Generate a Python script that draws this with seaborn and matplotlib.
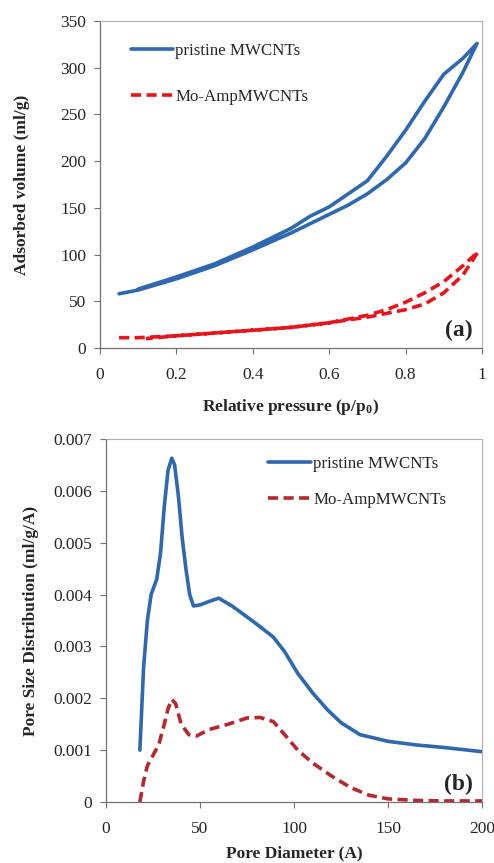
import numpy as np
import pandas as pd
import matplotlib.pyplot as plt
import seaborn as sns

# (a) isotherms: adsorption branch then desorption branch (one closed loop)
p_pristine = [0.05, 0.1, 0.2, 0.3, 0.4, 0.5, 0.6, 0.65, 0.7, 0.75, 0.8, 0.85, 0.9, 0.95, 0.987,
              0.95, 0.9, 0.85, 0.8, 0.75, 0.7, 0.65, 0.6, 0.55, 0.5, 0.45, 0.4, 0.3, 0.2, 0.1]
v_pristine = [58, 62, 74, 88, 105, 123, 143, 153, 165, 180, 198, 224, 258, 295, 326,
              310, 293, 264, 233, 205, 179, 165, 151, 141, 128, 118, 108, 90, 76, 63]

p_mo = [0.05, 0.1, 0.2, 0.3, 0.4, 0.5, 0.6, 0.7, 0.75, 0.8, 0.85, 0.9, 0.95, 0.99,
        0.95, 0.9, 0.85, 0.8, 0.75, 0.7, 0.6, 0.5, 0.4, 0.3, 0.2, 0.12]
v_mo = [11, 11, 13, 16, 19, 22, 27, 33, 37, 41, 47, 59, 78, 103,
        88, 71, 59, 49, 41, 35, 27, 22, 19, 16, 13, 10]

# (b) pore size distribution
d_pristine = [18, 20, 22, 24, 27, 29, 31, 33, 35, 36.5, 38.5, 40.5, 42.5, 44.5, 46.5, 50, 55, 60,
              67, 75, 82, 89, 95, 102, 110, 118, 125, 135, 150, 165, 180, 200]
psd_pristine = [0.001, 0.0026, 0.0035, 0.0040, 0.0043, 0.0048, 0.0057, 0.0064, 0.00663, 0.0065,
                0.0059, 0.0051, 0.0045, 0.0040, 0.00378, 0.0038, 0.00387, 0.00393,
                0.00378, 0.00357, 0.00338, 0.00318, 0.0029, 0.00248, 0.0021, 0.00177,
                0.00153, 0.0013, 0.00117, 0.0011, 0.00105, 0.00097]

d_mo = [18, 20, 22, 25, 28, 31, 33, 35, 37, 40, 44, 48, 55, 65, 75, 82, 89,
        95, 102, 110, 120, 130, 140, 150, 165, 180, 200]
psd_mo = [0.0, 0.0004, 0.0007, 0.0009, 0.0011, 0.0015, 0.0018, 0.00198, 0.0019, 0.0015,
          0.0013, 0.00127, 0.0014, 0.0015, 0.00162, 0.00163, 0.00155, 0.0013, 0.001,
          0.00075, 0.0005, 0.00028, 0.00013, 0.00006, 0.00003, 0.00002, 0.00002]

sns.set_style("white")
plt.rcParams['font.family'] = ['Liberation Serif', 'DejaVu Serif']
plt.rcParams['mathtext.fontset'] = 'stix'

blue = '#2D68B0'
red_a = '#E8141C'
red_b = '#B8262E'
dash = (0, (2.8, 1.5))

fig = plt.figure(figsize=(4.94, 8.63), dpi=100)
ax1 = fig.add_axes([0.2024, 0.5968, 0.7733, 0.3789])
ax2 = fig.add_axes([0.2146, 0.0707, 0.7611, 0.4206])

df_a1 = pd.DataFrame({'p': p_pristine, 'v': v_pristine})
df_a2 = pd.DataFrame({'p': p_mo, 'v': v_mo})
sns.lineplot(data=df_a1, x='p', y='v', sort=False, estimator=None, ax=ax1,
             color=blue, lw=2.6, label='pristine MWCNTs')
sns.lineplot(data=df_a2, x='p', y='v', sort=False, estimator=None, ax=ax1,
             color=red_a, lw=2.6, linestyle=dash, label='Mo-AmpMWCNTs')

df_b1 = pd.DataFrame({'d': d_pristine, 'psd': psd_pristine})
df_b2 = pd.DataFrame({'d': d_mo, 'psd': psd_mo})
sns.lineplot(data=df_b1, x='d', y='psd', sort=False, estimator=None, ax=ax2,
             color=blue, lw=2.6, label='pristine MWCNTs')
sns.lineplot(data=df_b2, x='d', y='psd', sort=False, estimator=None, ax=ax2,
             color=red_b, lw=2.6, linestyle=dash, label='Mo-AmpMWCNTs')

for ax in (ax1, ax2):
    for s in ['top', 'right']:
        ax.spines[s].set_color('#b0b0b0')
        ax.spines[s].set_linewidth(0.8)
    for s in ['left', 'bottom']:
        ax.spines[s].set_color('#707070')
        ax.spines[s].set_linewidth(0.9)
    ax.tick_params(axis='both', direction='out', length=4, width=0.8, color='#707070',
                   labelsize=12.5, left=True, bottom=True, pad=6)

ax1.set_xlim(0, 1)
ax1.set_ylim(0, 350)
ax1.set_xticks(np.arange(0, 1.01, 0.2))
ax1.set_xticklabels(['0', '0.2', '0.4', '0.6', '0.8', '1'])
ax1.set_yticks(np.arange(0, 351, 50))
ax1.tick_params(axis='x', pad=10)
ax1.set_xlabel('Relative pressure (p/p$_\\mathregular{0}$)', fontsize=12.5, fontweight='bold', labelpad=10)
ax1.set_ylabel('Adsorbed volume (ml/g)', fontsize=12.5, fontweight='bold', labelpad=22)
ax1.text(0.975, 0.02, '(a)', transform=ax1.transAxes, ha='right', va='bottom',
         fontsize=17, fontweight='bold')
ax1.legend(loc='upper left', bbox_to_anchor=(0.04, 0.98), frameon=False,
           fontsize=12.2, handlelength=2.5, handletextpad=0.15, labelspacing=1.8)

ax2.set_xlim(0, 200)
ax2.set_ylim(0, 0.007)
ax2.set_xticks(np.arange(0, 201, 50))
ax2.set_yticks(np.arange(0, 0.0071, 0.001))
ax2.set_yticklabels(['0', '0.001', '0.002', '0.003', '0.004', '0.005', '0.006', '0.007'])
ax2.tick_params(axis='x', pad=10)
ax2.set_xlabel('Pore Diameter (A)', fontsize=12.5, fontweight='bold', labelpad=6)
ax2.set_ylabel('Pore Size Distribution (ml/g/A)', fontsize=12.5, fontweight='bold', labelpad=10)
ax2.text(0.975, 0.02, '(b)', transform=ax2.transAxes, ha='right', va='bottom',
         fontsize=17, fontweight='bold')
ax2.legend(loc='upper right', bbox_to_anchor=(0.945, 0.995), frameon=False,
           fontsize=12.2, handlelength=2.5, handletextpad=0.15, labelspacing=1.15)

fig.savefig('out.png', dpi=100)
